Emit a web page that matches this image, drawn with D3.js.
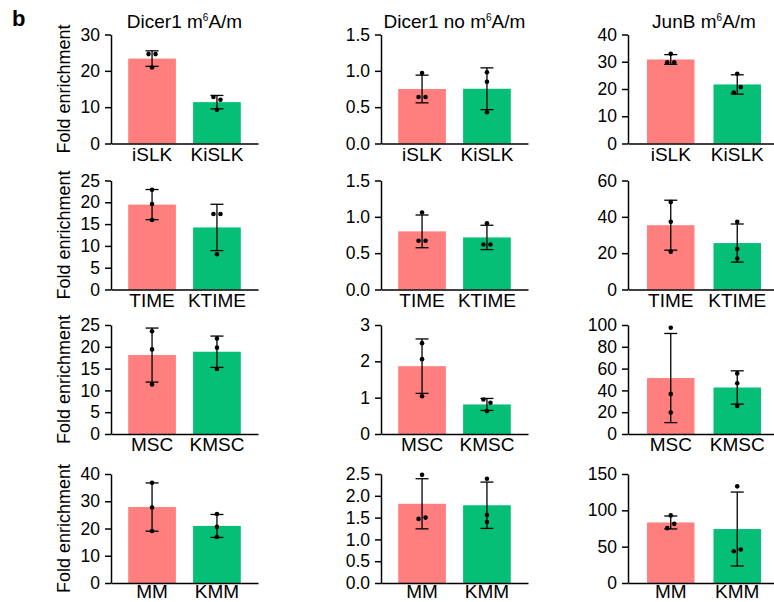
<!DOCTYPE html>
<html>
<head>
<meta charset="utf-8">
<script src="https://cdn.jsdelivr.net/npm/d3@7"></script>
<style>
  body { margin: 0; background: #fff; }
  svg { display: block; font-family: "Liberation Sans", Arial, sans-serif; }
</style>
</head>
<body>
<div id="chart"></div>
<script>
// column titles, split around the superscript "6"
const titles = [["Dicer1 m", "6", "A/m"], ["Dicer1 no m", "6", "A/m"], ["JunB m", "6", "A/m"]];
// cell lines per row (control, KSHV)
const rowGroups = [["iSLK", "KiSLK"], ["TIME", "KTIME"], ["MSC", "KMSC"], ["MM", "KMM"]];

// replicate fold enrichment, [row][group][replicate]
const dicer1M6A = [
  [[24.6, 24.6, 20.9], [12.8, 12.05, 9.3]],
  [[22.86, 19.6, 15.95], [17.3, 17.3, 8.1]],
  [[23.55, 19.4, 11.36], [21.9, 19.8, 14.9]],
  [[36.8, 27.7, 19.1], [25.3, 20.6, 16.9]]
];
const dicer1NoM6A = [
  [[0.97, 0.64, 0.64], [0.98, 0.85, 0.43]],
  [[1.06, 0.67, 0.67], [0.91, 0.62, 0.62]],
  [[2.50, 2.06, 1.04], [0.95, 0.86, 0.63]],
  [[2.48, 1.47, 1.50], [2.39, 1.56, 1.40]]
];
const junBM6A = [
  [[32.9, 29.8, 29.8], [25.6, 18.7, 20.7]],
  [[48.1, 37.3, 20.8], [37.3, 22.3, 17.1]],
  [[97.5, 36.8, 19.7], [55.6, 46.6, 25.8]],
  [[93.0, 75.5, 81.4], [133.0, 43.7, 46.1]]
];

// y tick values, [row]
const ticksDicer1M6A = [[0, 10, 20, 30], [0, 5, 10, 15, 20, 25], [0, 5, 10, 15, 20, 25], [0, 10, 20, 30, 40]];
const ticksDicer1NoM6A = [[0, 0.5, 1, 1.5], [0, 0.5, 1, 1.5], [0, 1, 2, 3], [0, 0.5, 1, 1.5, 2, 2.5]];
const ticksJunBM6A = [[0, 10, 20, 30, 40], [0, 20, 40, 60], [0, 20, 40, 60, 80, 100], [0, 50, 100, 150]];

const panelData = [dicer1M6A, dicer1NoM6A, junBM6A];
const panelTicks = [ticksDicer1M6A, ticksDicer1NoM6A, ticksJunBM6A];
const colors = ["#ff7f7f", "#05bf77"];

// layout
const colX = [111, 381, 628];
const colW = [147, 147, 152];
const colPad = [0.265, 0.265, 0.286];
const rowY = [34.5, 180.5, 325, 474];
const plotH = 109;

const svg = d3.select("#chart").append("svg")
  .attr("width", 774)
  .attr("height", 602);

svg.append("text")
  .attr("x", 12).attr("y", 26)
  .attr("font-size", 22).attr("font-weight", "bold")
  .text("b");

const mean = a => d3.mean(a);
const sd = a => d3.deviation(a);

panelData.forEach((rows, c) => {
  rows.forEach((groups, r) => {
    const g = svg.append("g")
      .attr("transform", "translate(" + colX[c] + "," + rowY[r] + ")");
    const ticks = panelTicks[c][r];
    const isInt = ticks.every(t => Number.isInteger(t));
    const fmt = isInt ? d3.format("d") : d3.format(".1f");

    const x = d3.scaleBand().domain(rowGroups[r]).range([0, colW[c]]).padding(colPad[c]);
    const y = d3.scaleLinear().domain([0, d3.max(ticks)]).range([plotH, 0]);

    // bars
    g.selectAll("rect.bar")
      .data(groups)
      .enter().append("rect")
      .attr("class", "bar")
      .attr("x", (d, i) => x(rowGroups[r][i]))
      .attr("width", x.bandwidth())
      .attr("y", d => y(mean(d)))
      .attr("height", d => plotH - y(mean(d)))
      .attr("fill", (d, i) => colors[i]);

    // error bars (mean ± SD)
    groups.forEach((d, i) => {
      const cx = x(rowGroups[r][i]) + x.bandwidth() / 2;
      const m = mean(d), s = sd(d);
      const eb = g.append("g").attr("stroke", "#000").attr("stroke-width", 1.3);
      eb.append("line").attr("x1", cx).attr("x2", cx).attr("y1", y(m - s)).attr("y2", y(m + s));
      [m - s, m + s].forEach(v => {
        eb.append("line").attr("x1", cx - 6.5).attr("x2", cx + 6.5).attr("y1", y(v)).attr("y2", y(v));
      });

      // spread replicate dots that would overlap
      const py = d.map(v => y(v));
      const off = d.map(() => 0);
      const used = d.map(() => false);
      for (let a = 0; a < d.length; a++) {
        if (used[a]) continue;
        for (let b = a + 1; b < d.length; b++) {
          if (!used[b] && Math.abs(py[a] - py[b]) < 6) {
            off[a] = -3.5; off[b] = 3.5; used[a] = used[b] = true;
            break;
          }
        }
      }
      g.selectAll(null)
        .data(d)
        .enter().append("circle")
        .attr("cx", (v, k) => cx + off[k])
        .attr("cy", v => y(v))
        .attr("r", 2.3)
        .attr("fill", "#000");
    });

    // axes
    const ya = g.append("g")
      .call(d3.axisLeft(y).tickValues(ticks).tickFormat(fmt).tickSize(6).tickSizeOuter(0).tickPadding(5));
    // last row sits at the page edge, so its labels are pulled up a little
    const xa = g.append("g")
      .attr("transform", "translate(0," + plotH + ")")
      .call(d3.axisBottom(x).tickSize(0).tickPadding(r === rowY.length - 1 ? 1 : 4));
    [ya, xa].forEach(a => {
      a.attr("font-family", null);
      a.selectAll("path, line").attr("stroke", "#000").attr("stroke-width", 1.5);
      a.selectAll("text").attr("fill", "#000");
    });
    ya.attr("font-size", 17.5);
    xa.attr("font-size", 19);

    if (r === 0) {
      const t = g.append("text")
        .attr("x", colW[c] / 2).attr("y", -6.5)
        .attr("text-anchor", "middle")
        .attr("font-size", 19);
      t.append("tspan").text(titles[c][0]);
      t.append("tspan").attr("font-size", 10).attr("dy", -7).text(titles[c][1]);
      t.append("tspan").attr("dy", 7).text(titles[c][2]);
    }
    if (c === 0) {
      g.append("text")
        .attr("transform", "translate(" + (70 - colX[c]) + "," + plotH / 2 + ") rotate(-90)")
        .attr("text-anchor", "middle")
        .attr("font-size", 18)
        .text("Fold enrichment");
    }
  });
});
</script>
</body>
</html>
